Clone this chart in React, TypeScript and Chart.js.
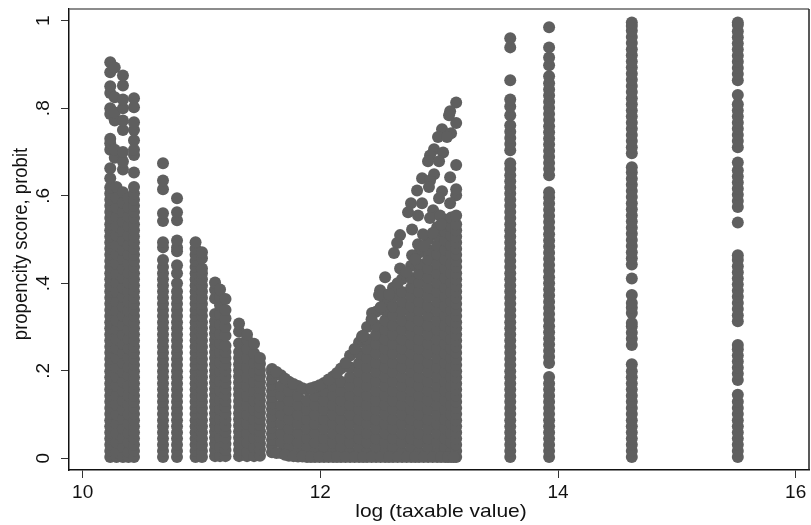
import React, { useEffect, useRef } from "react";
import { Chart, registerables } from "chart.js";

Chart.register(...registerables);

const xTicks = [10, 12, 14, 16];
const yTicks = [0, 0.2, 0.4, 0.6, 0.8, 1];
const yTickLabels = ["0", ".2", ".4", ".6", ".8", "1"];
const xTitle = "log (taxable value)";
const yTitle = "propencity score, probit";

// Vertical runs of observations: [log taxable value, propensity scores]
const lowValueRuns: [number, number[]][] = [
  [10.232, [.003,.017,.031,.045,.059,.073,.087,.101,.115,.129,.143,.157,.171,.185,.199,.213,.227,.241,.255,.269,.283,.297,.311,.325,.339,.353,.367,.381,.395,.409,.423,.437,.451,.465,.479,.493,.507,.521,.535,.549,.563,.577,.591,.605,.619,.64,.663,.705,.72,.73,.787,.8,.835,.85,.882,.905]],
  [10.27, [.687,.705,.772,.79,.825,.893]],
  [10.285, [.003,.014,.036,.057,.079,.1,.122,.143,.165,.186,.208,.229,.251,.272,.294,.315,.337,.358,.38,.401,.423,.444,.466,.487,.509,.53,.552,.573,.595,.62]],
  [10.339, [.003,.025,.046,.068,.089,.111,.132,.154,.175,.197,.218,.24,.261,.283,.304,.326,.347,.369,.39,.412,.433,.455,.476,.498,.519,.541,.562,.584,.608,.66,.678,.7,.75,.772,.8,.82,.852,.875]],
  [10.385, [.003,.014,.036,.057,.079,.1,.122,.143,.165,.19,.208,.229,.251,.272,.294,.315,.337,.358,.38,.401,.423,.444,.466,.487,.509,.53,.552,.573,.595]],
  [10.432, [.003,.017,.031,.045,.059,.073,.087,.101,.115,.129,.143,.157,.171,.185,.199,.213,.227,.241,.255,.269,.283,.297,.311,.325,.339,.353,.367,.381,.395,.409,.423,.437,.451,.465,.479,.493,.507,.521,.535,.549,.563,.577,.591,.605,.62,.653,.693,.705,.727,.75,.768,.802,.823]],
  [10.676, [.003,.017,.031,.045,.059,.073,.087,.101,.115,.129,.143,.157,.171,.185,.199,.213,.227,.241,.255,.269,.283,.297,.311,.325,.339,.353,.367,.381,.395,.409,.423,.437,.453,.482,.494,.542,.56,.615,.635,.674]],
  [10.794, [.003,.017,.031,.045,.059,.073,.087,.101,.115,.129,.143,.157,.171,.185,.199,.213,.227,.241,.255,.269,.283,.297,.311,.325,.339,.353,.367,.381,.4,.423,.441,.473,.482,.498,.544,.562,.594]],
  [10.95, [.003,.017,.031,.045,.059,.073,.087,.101,.115,.129,.143,.157,.171,.185,.199,.213,.227,.241,.255,.269,.283,.297,.311,.325,.339,.353,.367,.381,.395,.409,.423,.437,.451,.465,.479,.494]],
  [11.004, [.003,.017,.031,.045,.059,.073,.087,.101,.115,.129,.143,.157,.171,.185,.199,.213,.227,.241,.255,.269,.283,.297,.311,.325,.339,.353,.367,.381,.395,.409,.423,.434,.457,.471]],
  [11.114, [.005,.019,.033,.047,.061,.075,.089,.103,.117,.131,.145,.159,.173,.187,.201,.215,.229,.243,.257,.271,.285,.299,.313,.33,.365,.385,.402]],
  [11.156, [.005,.026,.047,.069,.09,.112,.133,.155,.176,.198,.219,.241,.262,.284,.305,.33,.35,.368,.386]],
  [11.202, [.005,.019,.033,.047,.061,.075,.089,.103,.117,.131,.145,.159,.173,.187,.201,.215,.229,.243,.257,.28,.3,.32,.339,.364]],
  [11.316, [.005,.019,.033,.047,.061,.075,.089,.103,.117,.131,.145,.159,.173,.187,.201,.215,.229,.243,.263,.29,.308]],
  [11.383, [.005,.014,.036,.057,.079,.1,.122,.143,.165,.186,.208,.229,.251,.272,.283]],
  [11.442, [.005,.025,.046,.068,.089,.111,.132,.154,.175,.197,.218,.24,.262]],
  [11.492, [.006,.02,.034,.048,.062,.076,.09,.104,.118,.132,.146,.16,.174,.188,.202,.216,.229]],
];

const midValueRuns: [number, number[]][] = [
  [11.593, [.014,.028,.042,.056,.07,.084,.098,.112,.126,.14,.154,.168,.182,.196,.204]],
  [11.669, [.012,.036,.057,.079,.1,.122,.143,.165,.19]],
  [11.736, [.006,.025,.046,.068,.089,.111,.132,.154,.175]],
  [11.812, [.004,.014,.036,.057,.079,.1,.122,.143,.165]],
  [11.888, [.003,.025,.046,.068,.089,.111,.132,.157]],
  [11.955, [.003,.014,.036,.057,.079,.1,.122,.143,.163]],
  [12.031, [.003,.025,.046,.068,.089,.111,.132,.154,.172]],
  [12.107, [.003,.014,.036,.057,.079,.1,.122,.143,.165,.187]],
  [12.174, [.003,.025,.046,.068,.089,.111,.132,.154,.175,.205]],
  [12.25, [.003,.014,.036,.057,.079,.1,.122,.143,.165,.186,.208,.235]],
  [12.326, [.003,.025,.046,.068,.089,.111,.132,.154,.175,.197,.218,.24,.265]],
  [12.393, [.003,.014,.036,.057,.079,.1,.122,.143,.165,.186,.208,.229,.251,.272,.3]],
  [12.469, [.003,.025,.046,.068,.089,.111,.132,.154,.175,.197,.218,.24,.261,.283,.304,.335]],
  [12.545, [.003,.014,.036,.057,.079,.1,.122,.143,.165,.186,.208,.229,.251,.272,.294,.315,.337,.36]],
  [12.612, [.003,.025,.046,.068,.089,.111,.132,.154,.175,.197,.218,.24,.261,.283,.304,.326,.347,.369,.39]],
  [12.688, [.003,.014,.036,.057,.079,.1,.122,.143,.165,.186,.208,.229,.251,.272,.294,.315,.337,.358,.38,.41]],
  [12.764, [.003,.025,.046,.068,.089,.111,.132,.154,.175,.197,.218,.24,.261,.283,.304,.326,.347,.369,.39,.412,.44]],
  [12.831, [.003,.014,.036,.057,.079,.1,.122,.143,.165,.186,.208,.229,.251,.272,.294,.315,.337,.358,.38,.401,.423,.444,.47]],
  [12.907, [.003,.025,.046,.068,.089,.111,.132,.154,.175,.197,.218,.24,.261,.283,.304,.326,.347,.369,.39,.412,.433,.455,.476,.5]],
  [12.983, [.003,.014,.036,.057,.079,.1,.122,.143,.165,.186,.208,.229,.251,.272,.294,.315,.337,.358,.38,.401,.423,.444,.466,.487,.509,.528]],
  [13.05, [.003,.025,.046,.068,.089,.111,.132,.154,.175,.197,.218,.24,.261,.283,.304,.326,.347,.369,.39,.412,.433,.455,.476,.498,.519,.545]],
  [13.1, [.003,.014,.036,.057,.079,.1,.122,.143,.165,.186,.208,.229,.251,.272,.294,.315,.337,.358,.38,.401,.423,.444,.466,.487,.509,.53,.55]],
  [13.143, [.003,.017,.031,.045,.059,.073,.087,.101,.115,.129,.143,.157,.171,.185,.199,.213,.227,.241,.255,.269,.283,.297,.311,.325,.339,.353,.367,.381,.395,.409,.423,.437,.451,.465,.479,.493,.507,.521,.535,.555,.601,.615,.67,.766,.813]],
];

// Sparse points above the solid mass on the rising right-hand edge
const edgeX = [13.092,13.083,13.024,13.1,12.99,13.066,12.957,12.923,13.033,12.906,12.999,13.092,12.957,12.856,12.923,12.914,12.814,13.024,12.999,12.856,12.763,13.092,12.738,12.822,12.949,12.923,13.007,12.772,12.864,12.671,12.646,12.822,12.62,12.772,12.671,12.545,12.503,12.494,12.435,12.351];
const edgeY = [.793,.784,.752,.743,.734,.734,.706,.692,.699,.679,.679,.642,.649,.64,.635,.62,.612,.61,.594,.583,.583,.583,.562,.555,.567,.549,.555,.523,.512,.51,.492,.489,.469,.464,.434,.414,.384,.373,.332,.279];

// Upper rim of the solid mass around the trough
const rimX = [11.631,11.703,11.774,11.85,11.921,11.993,12.069,12.14,12.212,12.288,12.36,12.431,12.507,12.578,12.65,12.726,12.798,12.869,12.945,13.016];
const rimY = [.197,.182,.17,.16,.16,.167,.18,.195,.218,.25,.28,.318,.345,.375,.4,.425,.455,.485,.515,.535];

// Lower rim of the solid mass near zero
const floorX = [11.631,11.703,11.774,11.85,11.921,11.993,12.069,12.14,12.212,12.288,12.36,12.431,12.507,12.578,12.65,12.726,12.798,12.869,12.945,13.016,13.075,13.122];
const floorY = [.012,.008,.005,.004,.003,.003,.003,.003,.003,.003,.003,.003,.003,.003,.003,.003,.003,.003,.003,.003,.003,.003];

const highValueRuns: [number, number[]][] = [
  [13.598, [.003,.017,.031,.045,.059,.073,.087,.101,.115,.129,.143,.157,.171,.185,.199,.213,.227,.241,.255,.269,.283,.297,.311,.325,.339,.353,.367,.381,.395,.409,.423,.437,.451,.465,.479,.493,.507,.521,.535,.549,.563,.577,.591,.605,.619,.633,.647,.661,.674,.704,.718,.732,.746,.761,.784,.804,.82,.864,.939,.96]],
  [13.925, [.003,.017,.031,.045,.059,.073,.087,.101,.115,.129,.143,.157,.171,.186,.218,.232,.246,.26,.274,.288,.302,.316,.33,.344,.358,.372,.386,.4,.414,.428,.442,.456,.47,.484,.498,.512,.526,.54,.554,.568,.582,.596,.608,.647,.661,.675,.689,.703,.717,.731,.745,.759,.773,.787,.801,.815,.829,.843,.857,.873,.898,.916,.939,.985]],
  [14.621, [.003,.017,.031,.045,.059,.073,.087,.101,.115,.129,.143,.157,.171,.185,.199,.215,.259,.273,.287,.301,.309,.332,.344,.355,.373,.411,.443,.457,.471,.485,.499,.513,.527,.541,.555,.569,.583,.597,.611,.625,.639,.653,.665,.697,.711,.725,.739,.753,.767,.781,.795,.809,.823,.837,.851,.865,.879,.893,.907,.921,.935,.949,.963,.977,.988,.996]],
  [15.513, [.003,.017,.031,.045,.059,.073,.087,.101,.115,.129,.145,.179,.193,.207,.221,.235,.249,.259,.313,.327,.341,.355,.369,.383,.397,.411,.425,.439,.453,.464,.539,.574,.588,.602,.616,.63,.644,.658,.676,.711,.725,.739,.753,.767,.781,.795,.809,.83,.864,.878,.892,.906,.92,.934,.948,.962,.976,.99,.996]],
];

const allRuns = [...lowValueRuns, ...midValueRuns, ...highValueRuns];

export default function App() {
  const ref = useRef<HTMLCanvasElement | null>(null);
  useEffect(() => {
    document.body.style.margin = "0";
    const points: { x: number; y: number }[] = [];
    allRuns.forEach(([x, ys]) => ys.forEach((y) => points.push({ x, y })));
    edgeX.forEach((x, i) => points.push({ x, y: edgeY[i] }));
    rimX.forEach((x, i) => points.push({ x, y: rimY[i] }));
    floorX.forEach((x, i) => points.push({ x, y: floorY[i] }));
    const font = "'Liberation Sans', Arial, sans-serif";
    const frame = {
      id: "frame",
      afterDraw(c: any) {
        const { left, right, top, bottom } = c.chartArea;
        const g = c.ctx;
        g.save();
        g.lineWidth = 1.5;
        g.strokeStyle = "#666666";
        g.beginPath();
        g.moveTo(left, top);
        g.lineTo(right, top);
        g.stroke();
        g.strokeStyle = "#222222";
        g.beginPath();
        g.moveTo(right, top);
        g.lineTo(right, bottom);
        g.stroke();
        // Axis titles: the reference's type is wider across x than along y
        g.fillStyle = "#111111";
        g.textAlign = "center";
        g.textBaseline = "alphabetic";
        g.font = `19px ${font}`;
        g.save();
        g.translate(441, 516.5);
        g.scale(1.105, 1);
        g.fillText(xTitle, 0, 0);
        g.restore();
        g.font = `18.5px ${font}`;
        g.save();
        g.translate(27, 244);
        g.rotate(-Math.PI / 2);
        g.scale(1, 1.13);
        g.fillText(yTitle, 0, 0);
        g.restore();
        g.restore();
      },
    };
    const chart = new Chart(ref.current as HTMLCanvasElement, {
      type: "scatter",
      data: {
        datasets: [
          {
            data: points,
            backgroundColor: "#5f5f5f",
            borderWidth: 0,
            pointRadius: 6,
            pointHoverRadius: 6,
          },
        ],
      },
      plugins: [frame],
      options: {
        animation: false,
        responsive: false,
        events: [],
        layout: { autoPadding: false, padding: { top: 9, right: 2, left: 0, bottom: 0 } },
        plugins: { legend: { display: false }, tooltip: { enabled: false } },
        scales: {
          x: {
            type: "linear",
            min: 9.885,
            max: 16.112,
            afterBuildTicks: (s: any) => {
              s.ticks = xTicks.map((value) => ({ value }));
            },
            afterFit: (s: any) => {
              s.height = 55;
              s.paddingLeft = 0;
              s.paddingRight = 0;
            },
            border: { color: "#111111", width: 1.5 },
            grid: { drawOnChartArea: false, color: "#333333", tickLength: 8, tickWidth: 1 },
            ticks: {
              color: "#111111",
              font: { family: font, size: 19 },
              padding: 3,
              maxRotation: 0,
              autoSkip: false,
              callback: (v: any) => String(v),
            },
          },
          y: {
            type: "linear",
            min: -0.0267,
            max: 1.0267,
            afterBuildTicks: (s: any) => {
              s.ticks = yTicks.map((value) => ({ value }));
            },
            afterFit: (s: any) => {
              s.width = 69;
              s.paddingTop = 0;
              s.paddingBottom = 0;
            },
            border: { color: "#111111", width: 1.5 },
            grid: { drawOnChartArea: false, color: "#333333", tickLength: 8, tickWidth: 1 },
            ticks: {
              color: "#111111",
              font: { family: font, size: 19 },
              padding: 9,
              minRotation: 90,
              maxRotation: 90,
              crossAlign: "center",
              autoSkip: false,
              callback: (v: any) => yTickLabels[yTicks.indexOf(v)] ?? "",
            },
          },
        },
      },
    } as any);
    return () => chart.destroy();
  }, []);
  return (
    <div style={{ width: 811, height: 525 }}>
      <canvas ref={ref} width={811} height={525} style={{ display: "block" }} />
    </div>
  );
}
